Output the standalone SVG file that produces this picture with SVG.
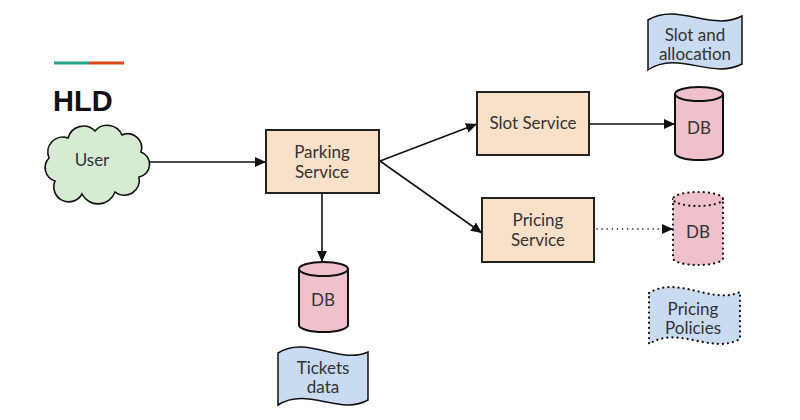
<svg xmlns="http://www.w3.org/2000/svg" width="800" height="420" viewBox="0 0 800 420">
<defs>
<style>
.t{font-family:Lato,"Open Sans","Liberation Sans",sans-serif;font-size:17px;fill:#333;text-anchor:middle}
.box{fill:#f9e0c8;stroke:#222;stroke-width:2}
.db{fill:#efc1ca;stroke:#111;stroke-width:2}
.doc{fill:#c9dbf0;stroke:#111;stroke-width:1.5}
.dot{stroke-dasharray:0.1 5;stroke-linecap:round;stroke-width:2.2}
.ln{fill:none;stroke:#111;stroke-width:1.6}
</style>
<marker id="ah" viewBox="0 0 10 10" refX="10" refY="5" markerWidth="11" markerHeight="11" markerUnits="userSpaceOnUse" orient="auto">
<path d="M0,0.5 L10,5 L0,9.5 Z" fill="#111"/>
</marker>
</defs>
<rect width="800" height="420" fill="#fff"/>
<line x1="54" y1="63" x2="89" y2="63" stroke="#27a58c" stroke-width="3"/>
<line x1="89" y1="63" x2="124" y2="63" stroke="#e0481c" stroke-width="3"/>
<text x="53" y="111" font-family="'Liberation Sans',sans-serif" font-weight="bold" font-size="29" fill="#111">HLD</text>

<g id="connectors">
<line class="ln" x1="147" y1="162" x2="266" y2="162" marker-end="url(#ah)"/>
<line class="ln" x1="380" y1="161" x2="477" y2="124" marker-end="url(#ah)"/>
<line class="ln" x1="380" y1="161" x2="482" y2="233" marker-end="url(#ah)"/>
<line class="ln" x1="589" y1="124" x2="675" y2="124" marker-end="url(#ah)"/>
<line class="ln" x1="322" y1="193" x2="322" y2="262" marker-end="url(#ah)"/>
<line class="ln dot" x1="597" y1="229" x2="664" y2="229"/>
<line class="ln" x1="664" y1="229" x2="673" y2="229" marker-end="url(#ah)"/>
</g>

<g id="user">
<path d="M55,181 A14,14 0 0 1 49,158 A15,15 0 0 1 68,138 A16,16 0 0 1 95,131 A16,16 0 0 1 122,135 A14,14 0 0 1 141,152 A13,13 0 0 1 139,177 A15,15 0 0 1 115,192 A18,18 0 0 1 82,194 A15,15 0 0 1 55,181 Z" fill="#d6ebd1" stroke="#111" stroke-width="1.6"/>
<text class="t" x="92" y="166">User</text>
</g>

<g id="parking">
<rect class="box" x="266" y="130" width="113" height="63"/>
<text class="t" x="322" y="158">Parking</text>
<text class="t" x="322" y="178">Service</text>
</g>

<g id="slot">
<rect class="box" x="477" y="92" width="112" height="63"/>
<text class="t" x="533" y="129">Slot Service</text>
</g>

<g id="pricing">
<rect class="box" x="482" y="198" width="112" height="64"/>
<text class="t" x="538" y="226">Pricing</text>
<text class="t" x="538" y="246">Service</text>
</g>

<g id="db-slot">
<path class="db" d="M675,94 L675,153 A24,7 0 0 0 723,153 L723,94"/>
<ellipse class="db" cx="699" cy="94" rx="24" ry="7"/>
<text class="t" x="699" y="134">DB</text>
</g>

<g id="db-pricing">
<path class="db dot" d="M673,199 L673,258 A25,7 0 0 0 723,258 L723,199"/>
<ellipse class="db dot" cx="698" cy="199" rx="25" ry="7"/>
<text class="t" x="698" y="238">DB</text>
</g>

<g id="db-parking">
<path class="db" d="M299,269 L299,325 A24.5,7 0 0 0 348,325 L348,269"/>
<ellipse class="db" cx="323.5" cy="269" rx="24.5" ry="7"/>
<text class="t" x="323" y="306">DB</text>
</g>

<g id="doc-slot">
<path class="doc" d="M648,20 C678,2 712,32 742,16 L742,64 C712,80 678,50 648,70 Z"/>
<text class="t" x="695" y="41">Slot and</text>
<text class="t" x="695" y="60">allocation</text>
</g>

<g id="doc-pricing">
<path class="doc dot" d="M649,293 C678,275 712,305 740,292 L740,339 C712,355 678,325 649,344 Z"/>
<text class="t" x="693" y="315">Pricing</text>
<text class="t" x="693" y="334">Policies</text>
</g>

<g id="doc-tickets">
<path class="doc" d="M278,353 C307,335 340,365 368,352 L368,400 C340,416 307,386 278,405 Z"/>
<text class="t" x="323" y="374">Tickets</text>
<text class="t" x="323" y="393">data</text>
</g>
</svg>
